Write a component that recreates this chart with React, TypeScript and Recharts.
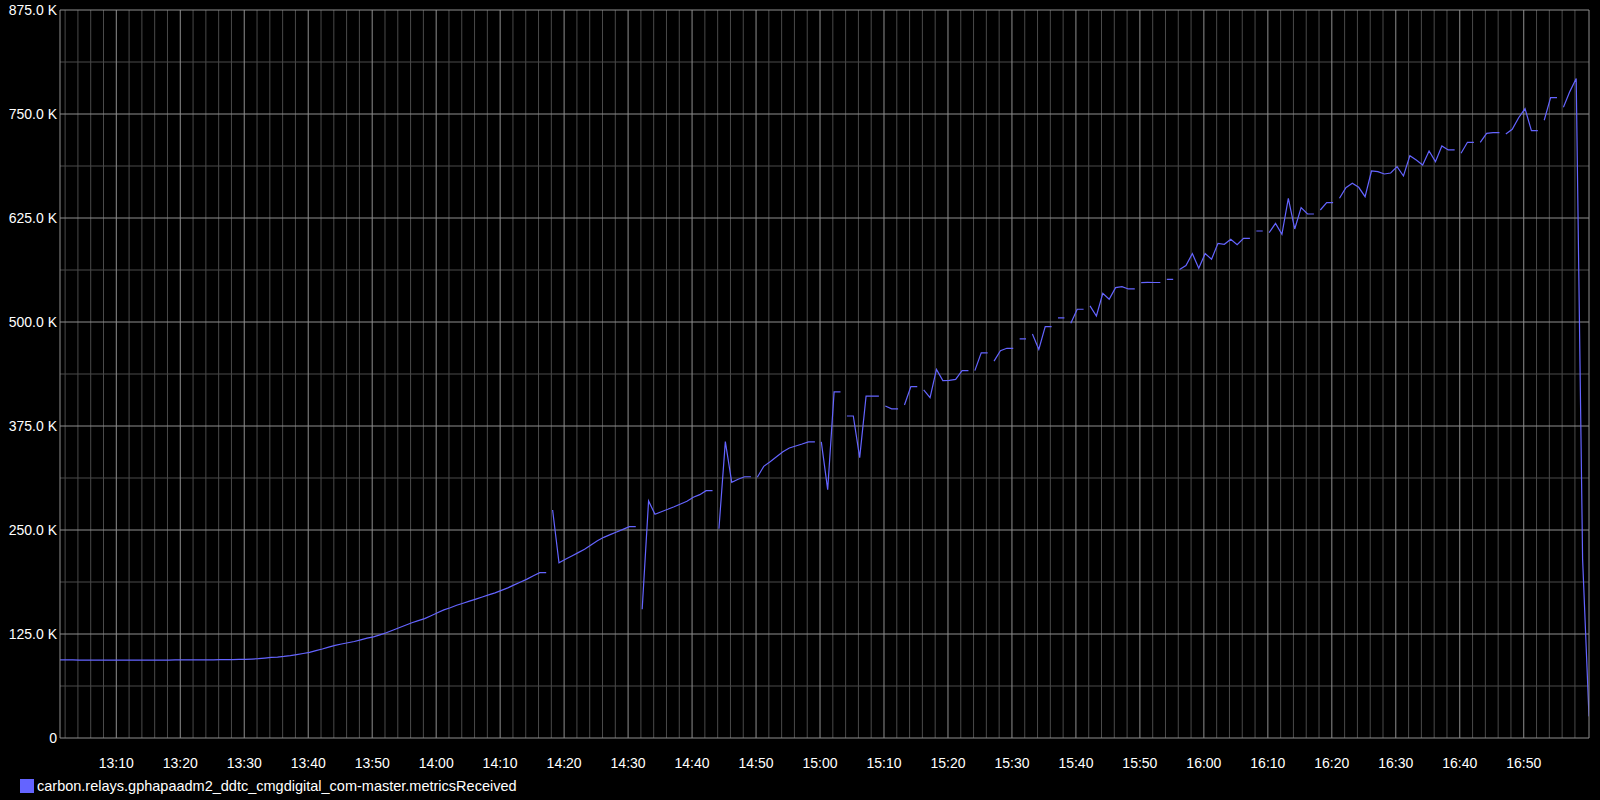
import React from 'react';
import { LineChart, Line, XAxis, YAxis, ReferenceLine } from 'recharts';

const FONT = '"Liberation Sans", Arial, sans-serif';

// Time axis: minutes after 13:00, one sample per minute (at hh:mm:12)
const startHour = 13;
const firstMinute = 1; // 13:01
const sampleOffset = 0.2;

// carbon.relays.gphapaadm2_ddtc_cmgdigital_com-master.metricsReceived, in thousands
const metricsReceivedK: number[] = [
  93.9, 93.8, 93.8, 93.7, 93.7, 93.7, 93.6, 93.6, 93.6, 93.6,
  93.6, 93.6, 93.7, 93.7, 93.6, 93.6, 93.7, 93.7, 93.8, 93.8,
  93.9, 93.9, 93.9, 94.0, 94.0, 94.1, 94.2, 94.3, 94.4, 94.6,
  94.9, 95.3, 96.0, 96.8, 97.2, 98.0, 99.0, 100.3, 101.6, 103.0,
  105.0, 107.0, 109.3, 111.3, 113.0, 114.5, 116.0, 118.0, 120.0, 121.5,
  124.0, 126.5, 129.5, 132.5, 135.5, 138.5, 141.0, 143.5, 147.0, 150.5,
  154.0, 156.5, 159.5, 162.0, 164.5, 167.0, 169.5, 172.0, 174.5, 177.5,
  180.5, 184.0, 187.5, 191.0, 195.0, 198.7, 198.7, 274.0, 210.7, 214.8,
  218.8, 222.8, 226.8, 232.0, 237.2, 241.2, 244.4, 247.6, 250.8, 254.0,
  254.0, 154.7, 284.9, 268.9, 272.0, 274.9, 278.0, 281.3, 284.5, 289.3,
  292.5, 297.3, 297.3, 251.6, 356.2, 307.3, 311.0, 314.0, 314.0, 313.4,
  326.5, 332.0, 338.0, 344.0, 348.6, 351.0, 353.4, 356.0, 356.0, 356.0,
  298.5, 416.0, 416.0, 387.0, 387.0, 337.0, 411.0, 411.0, 411.0, 399.0,
  395.6, 395.6, 400.3, 422.3, 422.3, 418.3, 409.0, 443.0, 429.5, 429.8,
  431.0, 441.5, 441.5, 441.5, 463.0, 463.0, 453.0, 465.6, 468.4, 468.4,
  479.6, 479.6, 485.6, 467.0, 494.4, 494.4, 505.0, 505.0, 498.4, 515.3,
  515.3, 519.3, 507.2, 534.5, 527.3, 541.3, 542.5, 539.7, 539.7, 547.3,
  547.7, 547.5, 547.5, 551.3, 551.3, 563.0, 567.8, 582.2, 564.6, 582.2,
  575.4, 594.6, 593.4, 599.4, 593.0, 600.6, 600.6, 609.4, 609.4, 607.4,
  618.6, 605.4, 648.7, 611.8, 637.4, 629.8, 629.8, 634.6, 643.4, 643.4,
  648.7, 661.5, 666.7, 661.9, 650.6, 681.5, 680.7, 677.9, 679.1, 686.7,
  675.5, 699.9, 694.7, 688.7, 705.6, 692.7, 711.6, 706.8, 706.8, 702.8,
  716.0, 716.0, 716.0, 726.8, 727.6, 727.6, 726.0, 731.6, 745.5, 756.5,
  729.9, 729.9, 742.5, 769.6, 769.6, 758.1, 776.9, 792.6, 215.0, 26.0,
];

// minutes after which the series has a gap
const breakAfterMinute: number[] = [
  77, 91, 103, 109, 119, 123, 129, 132, 135, 143, 146, 150, 152, 156, 158,
  161, 169, 173, 175, 187, 189, 197, 200, 219, 222, 226, 232, 235,
];

const majorTimeTicks: number[] = [
  10, 20, 30, 40, 50, 60, 70, 80, 90, 100, 110, 120, 130, 140, 150, 160,
  170, 180, 190, 200, 210, 220, 230,
];
const yMajorTicks: number[] = [0, 125, 250, 375, 500, 625, 750, 875];
const yMinorTicks: number[] = [62.5, 187.5, 312.5, 437.5, 562.5, 687.5, 812.5];

const lastMinute = firstMinute + metricsReceivedK.length - 1;
const tStart = firstMinute + sampleOffset;
const tEnd = lastMinute + sampleOffset;

const minorTimeLines: number[] = [];
for (let m = 2; m <= 240; m += 2) {
  if (m % 10 !== 0) minorTimeLines.push(m);
}

type Pt = { t: number; v: number | null };
const data: Pt[] = [];
metricsReceivedK.forEach((v, i) => {
  const minute = firstMinute + i;
  data.push({ t: minute + sampleOffset, v });
  if (breakAfterMinute.includes(minute)) {
    data.push({ t: minute + sampleOffset + 0.5, v: null });
  }
});

const fmtTime = (t: number) => {
  const total = Math.round(t);
  const h = startHour + Math.floor(total / 60);
  const m = total % 60;
  return `${h}:${m < 10 ? '0' : ''}${m}`;
};
const fmtK = (v: number) => (v === 0 ? '0' : `${v.toFixed(1)} K`);

const MAJOR = '#8f8f8f';
const MINOR = '#4a4a4a';
const LINE = '#6464ff';

export default function App() {
  return (
    <div
      style={{
        position: 'absolute',
        left: 0,
        top: 0,
        width: 1600,
        height: 800,
        background: '#000',
        fontFamily: FONT,
        overflow: 'hidden',
      }}
    >
      <LineChart
        width={1600}
        height={800}
        data={data}
        margin={{ top: 10, right: 0, bottom: 0, left: 0 }}
      >
        <XAxis
          type="number"
          dataKey="t"
          domain={[tStart, tEnd]}
          allowDataOverflow
          ticks={majorTimeTicks}
          interval={0}
          tickFormatter={fmtTime}
          tickLine={false}
          axisLine={false}
          tickSize={6}
          tickMargin={14}
          height={62}
          tick={{ fill: '#ffffff', fontSize: 14, fontFamily: FONT }}
        />
        <YAxis
          type="number"
          domain={[0, 875]}
          allowDataOverflow
          ticks={yMajorTicks}
          interval={0}
          tickFormatter={fmtK}
          tickLine={false}
          tickSize={0}
          tickMargin={3}
          width={60}
          axisLine={{ stroke: MAJOR, strokeWidth: 1 }}
          tick={{ fill: '#ffffff', fontSize: 14, fontFamily: FONT }}
        />
        <YAxis
          yAxisId="right"
          orientation="right"
          type="number"
          domain={[0, 875]}
          width={11}
          tick={false}
          tickLine={false}
          axisLine={{ stroke: MAJOR, strokeWidth: 1 }}
        />
        {yMinorTicks.map((y) => (
          <ReferenceLine key={`ym${y}`} y={y} stroke={MINOR} strokeWidth={1} />
        ))}
        {minorTimeLines.map((x) => (
          <ReferenceLine key={`xm${x}`} x={x} stroke={MINOR} strokeWidth={1} ifOverflow="hidden" />
        ))}
        {majorTimeTicks.map((x) => (
          <ReferenceLine key={`xM${x}`} x={x} stroke={MAJOR} strokeWidth={1} />
        ))}
        {yMajorTicks.map((y) => (
          <ReferenceLine key={`yM${y}`} y={y} stroke={MAJOR} strokeWidth={1} />
        ))}
        <Line
          type="linear"
          dataKey="v"
          stroke={LINE}
          strokeWidth={1.2}
          dot={false}
          activeDot={false}
          connectNulls={false}
          isAnimationActive={false}
        />
      </LineChart>
      <div
        style={{
          position: 'absolute',
          left: 20,
          top: 779,
          width: 14,
          height: 14,
          background: LINE,
        }}
      />
      <div
        style={{
          position: 'absolute',
          left: 37,
          top: 777,
          height: 18,
          lineHeight: '18px',
          fontSize: 14.5,
          color: '#ffffff',
          fontFamily: FONT,
          whiteSpace: 'nowrap',
        }}
      >
        carbon.relays.gphapaadm2_ddtc_cmgdigital_com-master.metricsReceived
      </div>
    </div>
  );
}
